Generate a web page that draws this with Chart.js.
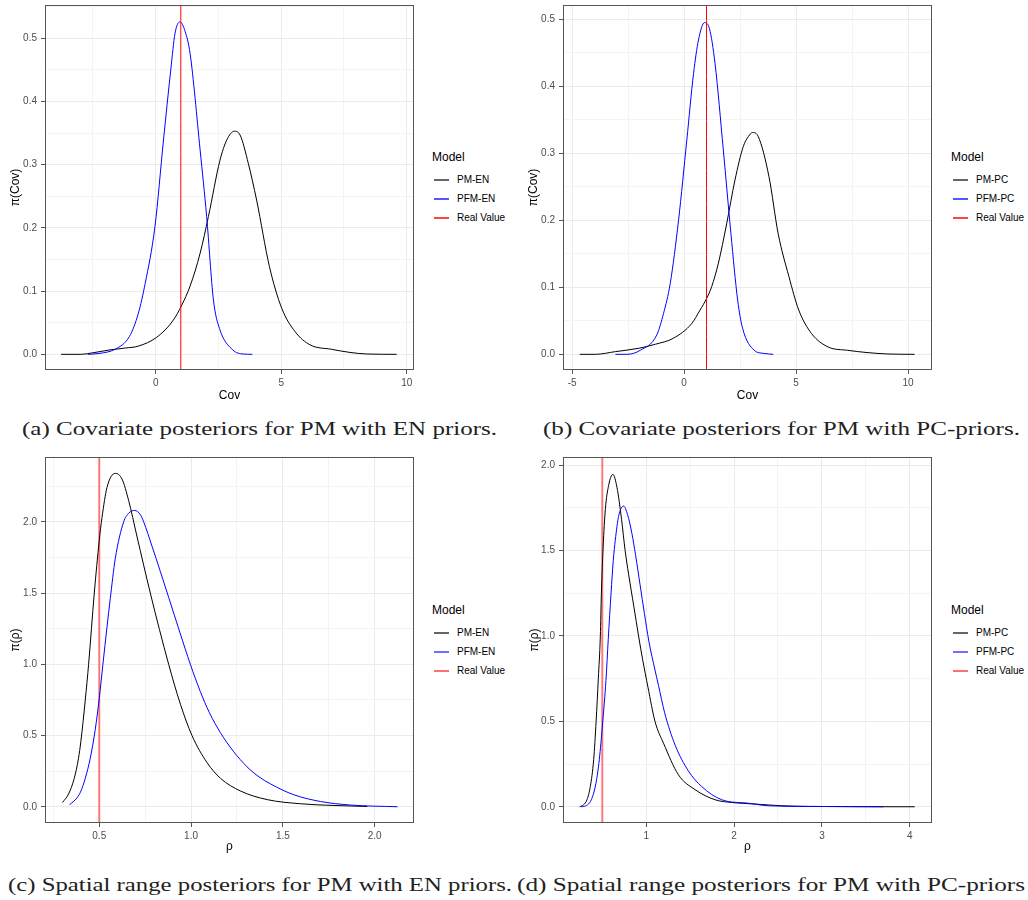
<!DOCTYPE html>
<html>
<head>
<meta charset="utf-8">
<script src="https://cdn.jsdelivr.net/npm/chart.js@4.4.1/dist/chart.umd.min.js"></script>
<style>
	body { margin: 0; background: #fff; width: 1028px; height: 900px; position: relative; overflow: hidden; font-family: "Liberation Sans", Arial, sans-serif; }
	canvas { position: absolute; }
	.legend { position: absolute; color: #000; width: 80px; }
	.legend .ttl { font-size: 12px; line-height: 14px; height: 14px; margin-bottom: 6px; }
	.legend .row { position: relative; height: 19px; font-size: 10px; line-height: 19px; white-space: nowrap; padding-left: 25px; }
	.legend .key { position: absolute; left: 2px; top: 9px; width: 15px; height: 2px; }
	.caption { position: absolute; font-family: "Liberation Serif", "DejaVu Serif", serif; font-size: 18px; line-height: 20px; white-space: nowrap; transform-origin: 0 50%; color: #222; }
</style>
</head>
<body>
<canvas id="chartA" width="420" height="405" style="left:0;top:0"></canvas>
<canvas id="chartB" width="420" height="405" style="left:515px;top:0"></canvas>
<canvas id="chartC" width="420" height="415" style="left:0;top:440px"></canvas>
<canvas id="chartD" width="420" height="415" style="left:515px;top:440px"></canvas>

<script>
// ---- data ----
// (a) covariate, EN priors
const covEnPmX = [-3.77, -3.01, -2.42, -1.82, -1.2, -0.69, 0.04, 0.70, 1.04, 1.37, 1.77, 2.10, 2.56, 2.83, 3.13, 3.36, 3.69, 4.02, 4.53, 5.02, 5.55, 6.15, 7.0, 7.74, 8.41, 9.60];
const covEnPmY = [0, 0, 0.003, 0.007, 0.010, 0.013, 0.027, 0.054, 0.078, 0.108, 0.16, 0.218, 0.307, 0.339, 0.353, 0.347, 0.302, 0.244, 0.139, 0.073, 0.036, 0.015, 0.008, 0.003, 0.0005, 0];
const covEnPfmX = [-2.71, -2.22, -1.62, -1.05, -0.69, -0.42, -0.03, 0.31, 0.60, 0.77, 0.97, 1.17, 1.37, 1.77, 2.03, 2.30, 2.54, 3.07, 3.49, 3.85];
const covEnPfmY = [0, 0.0016, 0.008, 0.028, 0.065, 0.112, 0.202, 0.339, 0.45, 0.508, 0.526, 0.511, 0.476, 0.323, 0.218, 0.086, 0.041, 0.007, 0.0005, 0];

// (b) covariate, PC priors
const covPcPmX = [-4.66, -3.97, -3.07, -2.03, -1.29, -0.48, 0.34, 0.71, 1.0, 1.23, 1.53, 1.90, 2.27, 2.64, 2.87, 3.06, 3.31, 3.79, 4.20, 4.68, 5.12, 5.69, 6.43, 7.3, 8.21, 9.10, 10.29];
const covPcPmY = [0, 0, 0.004, 0.009, 0.015, 0.024, 0.046, 0.066, 0.083, 0.101, 0.136, 0.195, 0.26, 0.31, 0.325, 0.331, 0.325, 0.265, 0.18, 0.116, 0.066, 0.031, 0.011, 0.006, 0.0025, 0.0005, 0];
const covPcPfmX = [-3.07, -2.55, -1.96, -1.22, -0.92, -0.62, -0.25, 0.12, 0.42, 0.64, 0.91, 1.13, 1.38, 1.75, 2.09, 2.39, 2.61, 3.13, 3.53, 3.98];
const covPcPfmY = [0, 0, 0.006, 0.029, 0.061, 0.106, 0.20, 0.32, 0.419, 0.469, 0.495, 0.486, 0.434, 0.305, 0.18, 0.081, 0.039, 0.006, 0.0015, 0];

// (c) spatial range, EN priors
const rhoEnPmX = [0.30, 0.333, 0.364, 0.387, 0.40, 0.424, 0.442, 0.473, 0.50, 0.515, 0.542, 0.587, 0.624, 0.66, 0.705, 0.778, 0.878, 0.942, 1.005, 1.087, 1.16, 1.27, 1.415, 1.596, 1.778, 1.96];
const rhoEnPmY = [0.030, 0.09, 0.20, 0.34, 0.46, 0.75, 1.0, 1.5, 1.87, 2.03, 2.24, 2.34, 2.30, 2.15, 1.90, 1.5, 1.0, 0.72, 0.5, 0.31, 0.2, 0.11, 0.05, 0.021, 0.009, 0.002];
const rhoEnPfmX = [0.338, 0.378, 0.40, 0.424, 0.451, 0.478, 0.50, 0.52, 0.542, 0.56, 0.587, 0.633, 0.66, 0.693, 0.724, 0.742, 0.787, 0.833, 0.878, 0.94, 0.996, 1.05, 1.10, 1.16, 1.23, 1.305, 1.37, 1.433, 1.56, 1.705, 1.869, 2.124];
const rhoEnPfmY = [0.014, 0.061, 0.11, 0.20, 0.34, 0.54, 0.76, 1.0, 1.26, 1.46, 1.74, 2.0, 2.06, 2.08, 2.05, 2.0, 1.83, 1.65, 1.47, 1.22, 1.0, 0.81, 0.66, 0.52, 0.39, 0.28, 0.21, 0.16, 0.084, 0.037, 0.012, 0];

// (d) spatial range, PC priors
const rhoPcPmX = [0.242, 0.288, 0.326, 0.364, 0.402, 0.43, 0.455, 0.478, 0.49, 0.51, 0.535, 0.572, 0.621, 0.667, 0.72, 0.76, 0.80, 0.86, 0.913, 0.96, 1.02, 1.10, 1.197, 1.367, 1.557, 1.784, 1.973, 2.239, 2.54, 2.845, 4.057];
const rhoPcPmY = [0, 0.012, 0.041, 0.119, 0.275, 0.5, 0.75, 1.0, 1.25, 1.52, 1.74, 1.88, 1.945, 1.87, 1.68, 1.5, 1.36, 1.17, 1.0, 0.86, 0.70, 0.5, 0.372, 0.187, 0.10, 0.041, 0.025, 0.016, 0.006, 0.002, 0];
const rhoPcPfmX = [0.258, 0.314, 0.375, 0.428, 0.466, 0.504, 0.542, 0.568, 0.60, 0.625, 0.648, 0.686, 0.742, 0.788, 0.837, 0.88, 0.93, 0.98, 1.03, 1.10, 1.14, 1.21, 1.33, 1.48, 1.63, 1.86, 2.16, 2.39, 2.845, 3.70];
const rhoPcPfmY = [0, 0.006, 0.041, 0.138, 0.275, 0.49, 0.74, 0.98, 1.25, 1.44, 1.56, 1.70, 1.76, 1.71, 1.60, 1.47, 1.30, 1.13, 0.97, 0.80, 0.71, 0.55, 0.36, 0.21, 0.119, 0.041, 0.021, 0.006, 0.002, 0];

const realCov = 1;
const realRho = 0.5;

const legendEn = ["PM-EN", "PFM-EN", "Real Value"];
const legendPc = ["PM-PC", "PFM-PC", "Real Value"];
const legendTitle = "Model";

const captions = [
	"(a) Covariate posteriors for PM with EN priors.",
	"(b) Covariate posteriors for PM with PC-priors.",
	"(c) Spatial range posteriors for PM with EN priors.",
	"(d) Spatial range posteriors for PM with PC-priors",
];

// ---- helpers ----
const pts = (xs, ys) => xs.map((x, i) => ({ x, y: ys[i] }));
const isMult = (v, m) => Math.abs(v / m - Math.round(v / m)) < 1e-6;
const tickGray = "#4D4D4D";

// ggplot-ish box around the panel
const panelBorder = {
	id: "panelBorder",
	afterDatasetsDraw(chart) {
		const { ctx, chartArea: a } = chart;
		ctx.save();
		ctx.strokeStyle = "#555";
		ctx.lineWidth = 1;
		ctx.strokeRect(Math.round(a.left) + 0.5, Math.round(a.top) + 0.5, Math.round(a.right - a.left) - 1, Math.round(a.bottom - a.top) - 1);
		ctx.restore();
	},
};

function axis(o) {
	return {
		type: "linear",
		min: o.min,
		max: o.max,
		border: { display: false },
		grid: {
			color: (c) => (c.tick && isMult(c.tick.value, o.major) ? "#EBEBEB" : "#F4F4F4"),
			tickColor: (c) => (c.tick && isMult(c.tick.value, o.major) ? "#555" : "rgba(0,0,0,0)"),
			tickLength: 4,
			lineWidth: 1,
		},
		ticks: {
			stepSize: o.step,
			includeBounds: false,
			autoSkip: false,
			maxRotation: 0,
			padding: o.tickPad,
			color: tickGray,
			font: { family: "'Liberation Sans', Arial", size: 10 },
			callback: (v) => (isMult(v, o.major) ? o.fmt(v) : ""),
		},
		title: {
			display: true,
			text: o.title,
			color: "#000",
			font: { family: "'Liberation Sans', Arial", size: 12, lineHeight: 1.2 },
			padding: o.titlePad,
		},
		afterFit: (s) => {
			if (o.width) s.width = o.width;
			if (o.height) s.height = o.height;
			s.paddingTop = 0;
			s.paddingBottom = 0;
			s.paddingLeft = 0;
			s.paddingRight = 0;
		},
	};
}

function makePanel(id, p) {
	const realOnTop = p.realOnTop;
	const ctx = document.getElementById(id).getContext("2d");
	return new Chart(ctx, {
		type: "line",
		data: {
			datasets: [
				{
					label: p.labels[0],
					data: pts(p.pmX, p.pmY),
					borderColor: "#000",
					borderWidth: 1,
					order: 2,
				},
				{
					label: p.labels[1],
					data: pts(p.pfmX, p.pfmY),
					borderColor: "#0000FF",
					borderWidth: 1,
					order: 1,
				},
				{
					label: p.labels[2],
					data: [{ x: p.real, y: p.y.min }, { x: p.real, y: p.y.max }],
					borderColor: realOnTop ? "#FF0000" : "rgba(255,0,0,0.5)",
					borderWidth: realOnTop ? 1 : 2,
					order: realOnTop ? 0 : 3,
				},
			],
		},
		options: {
			responsive: false,
			animation: false,
			parsing: false,
			layout: { padding: { top: p.padTop, right: p.padRight, left: 0, bottom: 0 } },
			elements: {
				point: { radius: 0 },
				line: { cubicInterpolationMode: "monotone", fill: false },
			},
			scales: {
				x: axis(p.x),
				y: axis(p.y),
			},
			plugins: {
				legend: { display: false },
				tooltip: { enabled: false },
			},
		},
		plugins: [panelBorder],
	});
}

const f1 = (v) => v.toFixed(1);
const f0 = (v) => String(Math.round(v));

makePanel("chartA", {
	labels: legendEn, pmX: covEnPmX, pmY: covEnPmY, pfmX: covEnPfmX, pfmY: covEnPfmY, real: realCov, realOnTop: true,
	padTop: 5, padRight: 6,
	x: { min: -4.41, max: 10.29, step: 2.5, major: 5, fmt: f0, title: "Cov", height: 35, tickPad: 3, titlePad: { top: 0, bottom: 2 } },
	y: { min: -0.0248, max: 0.5527, step: 0.05, major: 0.1, fmt: f1, title: "\u03c0(Cov)", width: 45, tickPad: 4, titlePad: { top: 8, bottom: 0 } },
});
makePanel("chartB", {
	labels: legendPc, pmX: covPcPmX, pmY: covPcPmY, pfmX: covPcPfmX, pfmY: covPcPfmY, real: realCov, realOnTop: true,
	padTop: 5, padRight: 3,
	x: { min: -5.41, max: 11.07, step: 2.5, major: 5, fmt: f0, title: "Cov", height: 35, tickPad: 3, titlePad: { top: 0, bottom: 2 } },
	y: { min: -0.0234, max: 0.5213, step: 0.05, major: 0.1, fmt: f1, title: "\u03c0(Cov)", width: 48, tickPad: 4, titlePad: { top: 11, bottom: 0 } },
});
makePanel("chartC", {
	labels: legendEn, pmX: rhoEnPmX, pmY: rhoEnPmY, pfmX: rhoEnPfmX, pfmY: rhoEnPfmY, real: realRho, realOnTop: false,
	padTop: 17, padRight: 6,
	x: { min: 0.2046, max: 2.214, step: 0.25, major: 0.5, fmt: f1, title: "\u03c1", height: 32, tickPad: 3, titlePad: { top: 0, bottom: 1 } },
	y: { min: -0.114, max: 2.455, step: 0.25, major: 0.5, fmt: f1, title: "\u03c0(\u03c1)", width: 45, tickPad: 4, titlePad: { top: 8, bottom: 0 } },
});
makePanel("chartD", {
	labels: legendPc, pmX: rhoPcPmX, pmY: rhoPcPmY, pfmX: rhoPcPfmX, pfmY: rhoPcPfmY, real: realRho, realOnTop: false,
	padTop: 17, padRight: 3,
	x: { min: 0.053, max: 4.253, step: 0.5, major: 1, fmt: f0, title: "\u03c1", height: 32, tickPad: 3, titlePad: { top: 0, bottom: 1 } },
	y: { min: -0.095, max: 2.047, step: 0.25, major: 0.5, fmt: f1, title: "\u03c0(\u03c1)", width: 48, tickPad: 4, titlePad: { top: 12, bottom: 0 } },
});

// ---- legends (html, to the right of each panel) ----
function addLegend(left, top, labels, colors) {
	const box = document.createElement("div");
	box.className = "legend";
	box.style.left = left + "px";
	box.style.top = top + "px";
	let html = `<div class="ttl">${legendTitle}</div>`;
	labels.forEach((lab, i) => {
		html += `<div class="row"><div class="key" style="background-color:${colors[i]}"></div>${lab}</div>`;
	});
	box.innerHTML = html;
	document.body.appendChild(box);
}
const keyColorsTop = ["#666666", "#5555FF", "#FF4444"];
const keyColorsBottom = ["#666666", "#7070FF", "#FF7070"];
addLegend(432, 150, legendEn, keyColorsTop);
addLegend(951, 150, legendPc, keyColorsTop);
addLegend(432, 603, legendEn, keyColorsBottom);
addLegend(951, 603, legendPc, keyColorsBottom);

// ---- captions, stretched to the width they take in the figure ----
const capPos = [
	{ x: 22, w: 475, y: 429 },
	{ x: 543, w: 477, y: 429 },
	{ x: 8, w: 504, y: 885 },
	{ x: 517, w: 508, y: 885 },
];
captions.forEach((text, i) => {
	const el = document.createElement("div");
	el.className = "caption";
	el.textContent = text;
	el.style.left = capPos[i].x + "px";
	el.style.top = capPos[i].y - 10 + "px";
	document.body.appendChild(el);
	const w = el.getBoundingClientRect().width;
	el.style.transform = `scaleX(${capPos[i].w / w})`;
});
</script>
</body>
</html>
